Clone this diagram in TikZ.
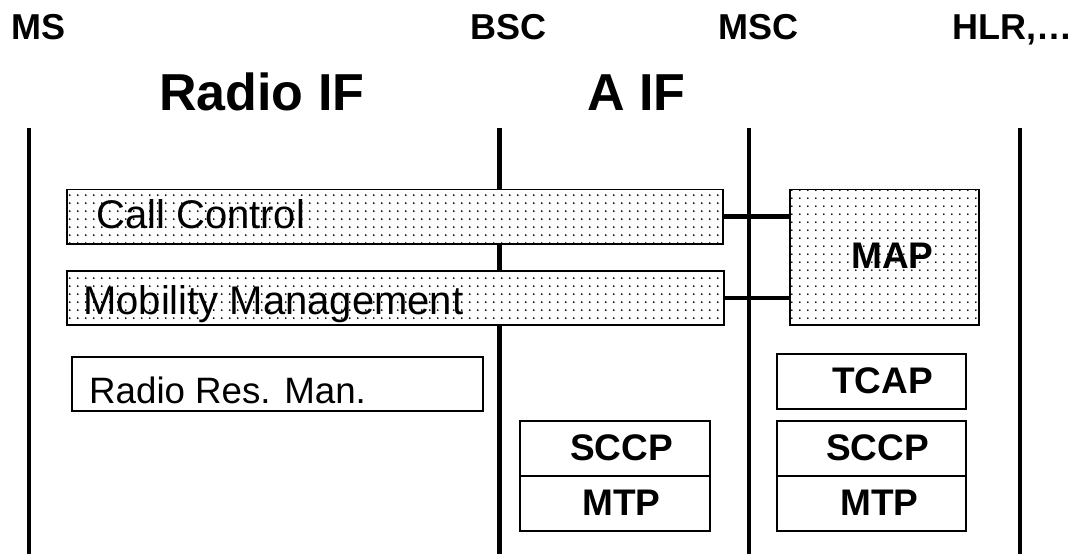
\documentclass[tikz,border=0pt]{standalone}
\usepackage{fontspec}
\setmainfont{Liberation Sans}
\usetikzlibrary{patterns.meta}

% sparse grid of small dots used as the layer shading
\tikzdeclarepattern{
  name=layerdots,
  type=colored,
  bounding box={(0pt,0pt) and (8.3pt,8.3pt)},
  tile size={(8.3pt,8.3pt)},
  code={\fill[black] (4.15pt,4.15pt) circle (1.05pt);}
}

\newcommand{\fsz}[1]{\fontsize{#1}{#1}\selectfont}

\tikzset{
  box/.style={draw, line width=1.6pt, inner sep=0pt, outer sep=0pt, anchor=north west, fill=white},
  shaded/.style={box, preaction={fill=white}, pattern=layerdots},
  divider/.style={line width=4.6pt},
  link/.style={line width=4.6pt},
  entity/.style={inner sep=0pt, anchor=base west, font=\bfseries\fsz{36}},
  iface/.style={inner sep=0pt, anchor=base west, font=\bfseries\fsz{52}},
  plain/.style={inner sep=0pt, anchor=base west, font=\fsz{40}},
  proto/.style={inner sep=0pt, anchor=base west, font=\bfseries\fsz{37}}
}

\begin{document}
\begin{tikzpicture}[x=1pt, y=-1pt]
  \useasboundingbox[fill=white] (0,0) rectangle (1085,554);

  % network entities
  \node[entity] (ms)  at (11,39)  {MS};
  \node[entity] (bsc) at (470,39) {BSC};
  \node[entity] (msc) at (718,39) {MSC};
  \node[entity] (hlr) at (952,39) {HLR,…};

  % interfaces
  \node[iface] (radioif) at (159,110) {Radio IF};
  \node[iface] (aif)     at (587,110) {A IF};

  % entity boundaries
  \foreach \x/\n in {29/ms, 499.5/bsc, 749/msc, 1020/hlr} {
    \coordinate (\n top) at (\x,128);
    \coordinate (\n bot) at (\x,554);
    \draw[divider] (\n top) -- (\n bot);
  }

  % upper layers
  \node[shaded, minimum width=656pt, minimum height=54.5pt] (cc)  at (67,189.5) {};
  \node[shaded, minimum width=657pt, minimum height=54pt]   (mm)  at (67,271) {};
  \node[shaded, minimum width=189pt, minimum height=135.5pt] (map) at (790,189.5) {};
  \node[plain] (cctext) at (96,228) {Call Control};
  \node[plain] (mmtext) at (83,314) {Mobility Management};
  \node[proto] (maptext) at (851,268) {MAP};

  \draw[link] (cc.east) -- (map.west |- cc.east);
  \draw[link] (mm.east) -- (map.west |- mm.east);

  % radio resource management
  \node[box, minimum width=411pt, minimum height=54pt] (rrm) at (72,357) {};
  \node[plain, font=\fsz{36.7}] (rrmtext) at (89,403) {Radio Res. Man.};

  % SS7 stack at the BSC
  \node[box, minimum width=190pt, minimum height=55pt] (sccpa) at (520,421) {};
  \node[box, minimum width=190pt, minimum height=55pt] (mtpa)  at (520,476) {};
  \node[proto] (sccpatext) at (570,460) {SCCP};
  \node[proto] (mtpatext)  at (582,515) {MTP};

  % SS7 stack at the MSC
  \node[box, minimum width=189pt, minimum height=55pt] (tcap)  at (777,354) {};
  \node[box, minimum width=189pt, minimum height=55pt] (sccpb) at (777,421) {};
  \node[box, minimum width=189pt, minimum height=55pt] (mtpb)  at (777,476) {};
  \node[proto] (tcaptext)  at (832,393) {TCAP};
  \node[proto] (sccpbtext) at (826,460) {SCCP};
  \node[proto] (mtpbtext)  at (840,515) {MTP};
\end{tikzpicture}
\end{document}
